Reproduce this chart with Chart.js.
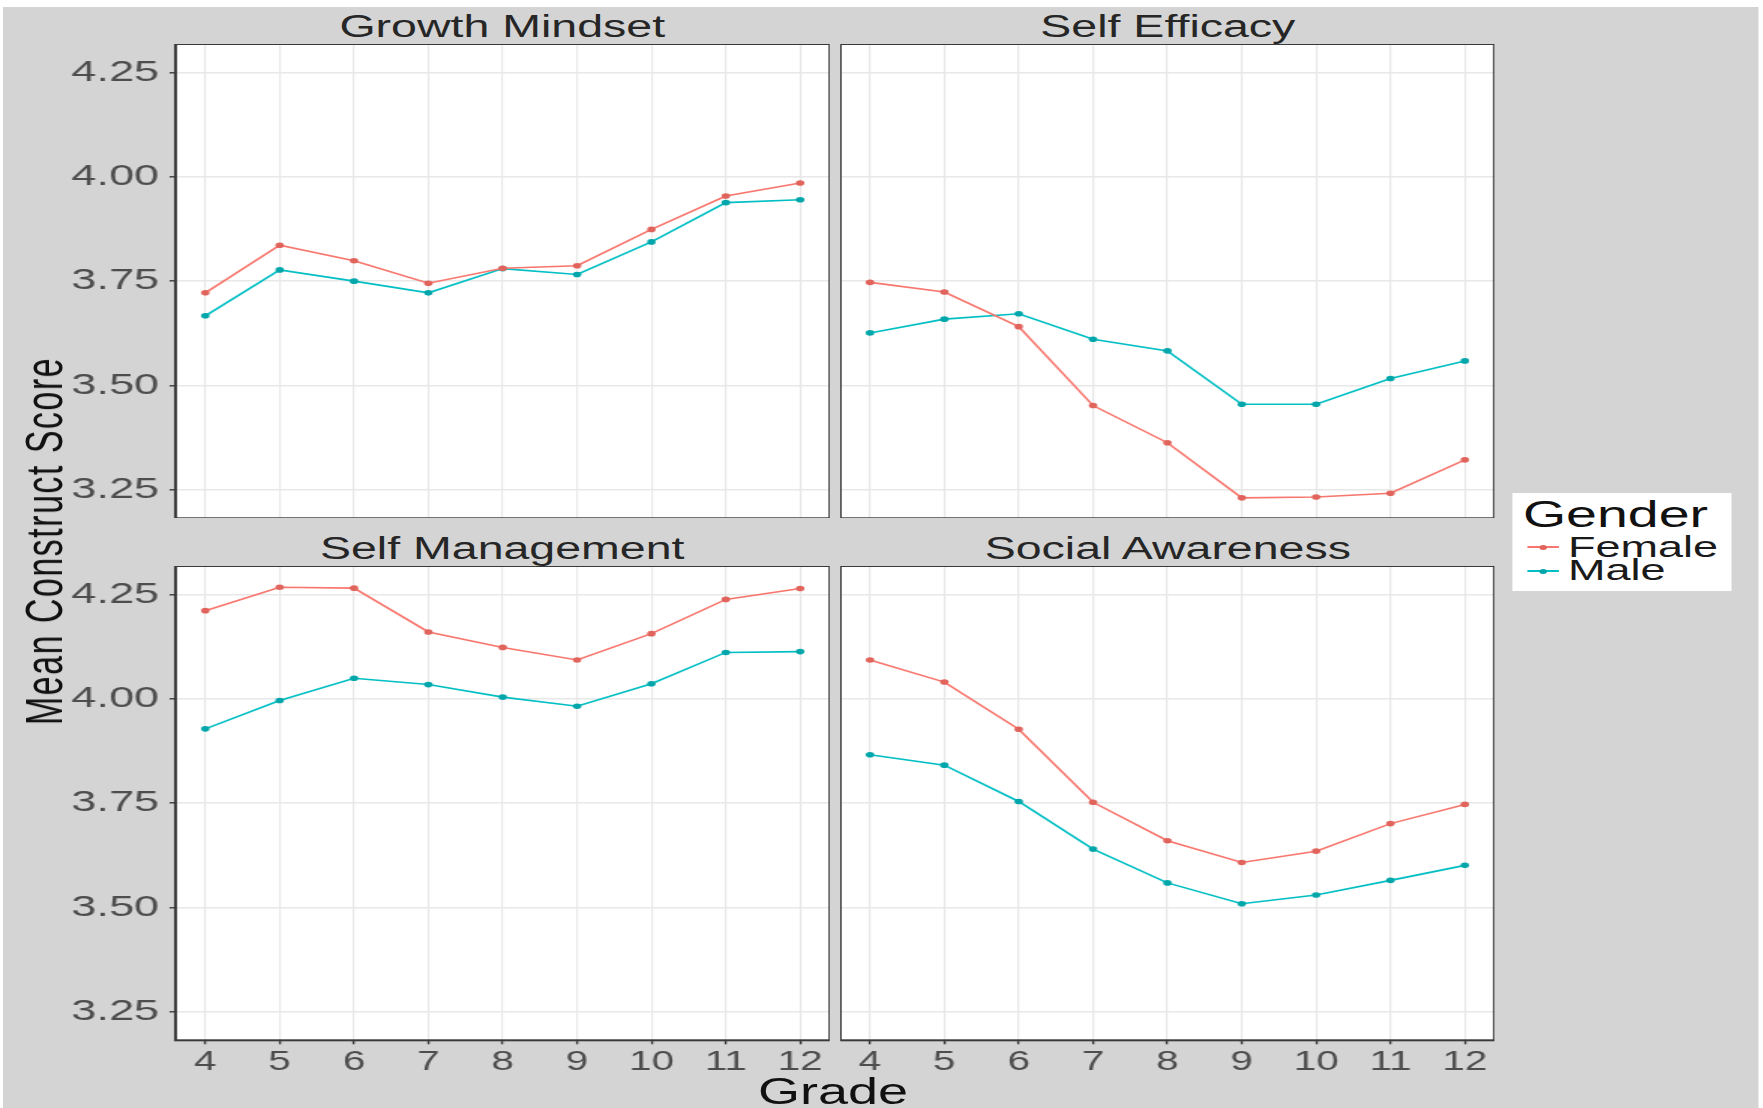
<!DOCTYPE html>
<html>
<head>
<meta charset="utf-8">
<script src="https://cdn.jsdelivr.net/npm/chart.js@4.4.1/dist/chart.umd.min.js"></script>
<style>
html,body{margin:0;padding:0;background:#ffffff;width:1763px;height:1108px;overflow:hidden;}
#stage{position:absolute;left:0;top:0;width:1175px;height:1108px;transform:scaleX(1.500426);transform-origin:0 0;font-family:"Liberation Sans",Arial,Helvetica,sans-serif;}
#bg{position:absolute;left:2px;top:7px;width:1170px;height:1101px;background:#d4d4d4;}
.panel{position:absolute;}
.panel canvas{display:block;}
.txt{position:absolute;line-height:1;white-space:nowrap;}
.strip{font-size:31px;color:#262626;text-align:center;}
#legend{position:absolute;left:1008.4px;top:493px;width:146px;height:98px;background:#ffffff;}
.key-line{position:absolute;height:2px;width:21px;}
.key-dot{position:absolute;width:5px;height:5px;border-radius:50%;}
</style>
</head>
<body>
<div id="stage">
  <div id="bg"></div>
  <div class="txt strip" id="t0"></div>
  <div class="txt strip" id="t1"></div>
  <div class="txt strip" id="t2"></div>
  <div class="txt strip" id="t3"></div>
  <div class="panel" id="p0"><canvas id="c0"></canvas></div>
  <div class="panel" id="p1"><canvas id="c1"></canvas></div>
  <div class="panel" id="p2"><canvas id="c2"></canvas></div>
  <div class="panel" id="p3"><canvas id="c3"></canvas></div>
  <div class="txt" id="ylab" style="left:28.7px;top:541px;font-size:34px;letter-spacing:1.5px;color:#111;transform:translate(-50%,-50%) rotate(-90deg);">Mean Construct Score</div>
  <div class="txt" id="xlab" style="left:555.2px;top:1074px;font-size:36px;color:#111;transform:translateX(-50%);">Grade</div>
  <div id="legend">
    <div class="txt" id="legTitle" style="left:6.6px;top:2.7px;font-size:37px;color:#111;"></div>
    <div class="key-line" id="kl0" style="left:9.3px;top:53px;"></div>
    <div class="key-dot" id="kd0" style="left:17.3px;top:51.5px;"></div>
    <div class="txt" id="lg0" style="left:36.6px;top:38.6px;font-size:30px;color:#1a1a1a;"></div>
    <div class="key-line" id="kl1" style="left:9.3px;top:77px;"></div>
    <div class="key-dot" id="kd1" style="left:17.3px;top:75.5px;"></div>
    <div class="txt" id="lg1" style="left:36.6px;top:61.6px;font-size:30px;color:#1a1a1a;"></div>
  </div>
</div>
<script>
// ---- data ----
const grades = [4, 5, 6, 7, 8, 9, 10, 11, 12];
const yTickValues = [3.25, 3.50, 3.75, 4.00, 4.25];
const panelTitles = ['Growth Mindset', 'Self Efficacy', 'Self Management', 'Social Awareness'];
const seriesNames = ['Female', 'Male'];
const legendTitle = 'Gender';
const gmFemale = [3.722, 3.836, 3.799, 3.745, 3.781, 3.787, 3.874, 3.954, 3.985];
const gmMale   = [3.667, 3.777, 3.750, 3.722, 3.780, 3.766, 3.844, 3.938, 3.945];
const seFemale = [3.747, 3.724, 3.641, 3.452, 3.363, 3.231, 3.233, 3.242, 3.322];
const seMale   = [3.626, 3.659, 3.672, 3.611, 3.583, 3.455, 3.455, 3.517, 3.559];
const smFemale = [4.211, 4.267, 4.265, 4.160, 4.123, 4.093, 4.156, 4.238, 4.264];
const smMale   = [3.928, 3.996, 4.049, 4.034, 4.004, 3.982, 4.036, 4.111, 4.113];
const saFemale = [4.093, 4.040, 3.927, 3.752, 3.660, 3.608, 3.635, 3.701, 3.747];
const saMale   = [3.866, 3.841, 3.754, 3.640, 3.559, 3.509, 3.530, 3.565, 3.601];
const yRange = [3.182, 4.318];
const xRange = [3.6, 12.4];

// ---- style / layout ----
const FEMALE_LINE = '#f8766d', FEMALE_PT = '#e0645c';
const MALE_LINE = '#00bfc4', MALE_PT = '#00a6aa';
const FONT = '"Liberation Sans", Arial, Helvetica, sans-serif';
const Y_W = 72, X_H = 50;
const colL = 116.7, colR = 560.3, panelW = 436.1;
const rowT = 44, rowB = 566, panelH = 474.3;

const frame = {
  id: 'panelFrame',
  beforeDraw(chart) {
    const {ctx, chartArea: a} = chart;
    ctx.save(); ctx.fillStyle = '#ffffff'; ctx.fillRect(a.left, a.top, a.width, a.height); ctx.restore();
  },
  afterDraw(chart) {
    const {ctx, chartArea: a} = chart;
    ctx.save(); ctx.strokeStyle = '#3a3a3a'; ctx.lineWidth = 2; ctx.strokeRect(a.left, a.top, a.width, a.height); ctx.restore();
  }
};

function ds(name, vals, line, pt) {
  return {
    label: name,
    data: grades.map((g, i) => ({x: g, y: vals[i]})),
    borderColor: line, backgroundColor: pt,
    pointBackgroundColor: pt, pointBorderColor: pt,
    borderWidth: 1.6, pointRadius: 2.8, pointBorderWidth: 0, tension: 0
  };
}

function makePanel(idx, female, male, showY, showX, left, top) {
  const div = document.getElementById('p' + idx);
  const w = panelW + (showY ? Y_W : 0);
  const h = panelH + (showX ? X_H : 0);
  div.style.left = (left - (showY ? Y_W : 0)) + 'px';
  div.style.top = top + 'px';
  div.style.width = w + 'px';
  div.style.height = h + 'px';
  const t = document.getElementById('t' + idx);
  t.textContent = panelTitles[idx];
  t.style.left = left + 'px';
  t.style.width = panelW + 'px';
  t.style.top = (top - 33.5) + 'px';

  new Chart(document.getElementById('c' + idx), {
    type: 'line',
    data: {datasets: [ds(seriesNames[0], female, FEMALE_LINE, FEMALE_PT), ds(seriesNames[1], male, MALE_LINE, MALE_PT)]},
    options: {
      responsive: true, maintainAspectRatio: false, animation: false,
      layout: {padding: 0, autoPadding: false},
      plugins: {legend: {display: false}, tooltip: {enabled: false}},
      scales: {
        x: {
          type: 'linear', min: xRange[0], max: xRange[1],
          afterBuildTicks: s => { s.ticks = grades.map(v => ({value: v})); },
          afterFit: s => { s.height = showX ? X_H : 0; s.paddingLeft = 0; s.paddingRight = 0; },
          grid: {color: '#e8e8e8', lineWidth: 1.2, drawTicks: showX, tickLength: 4, tickColor: '#3a3a3a', tickWidth: 1.4},
          border: {display: false},
          ticks: {display: showX, padding: 2, autoSkip: false, maxRotation: 0, color: '#4d4d4d',
                  font: {size: 27, family: FONT}, callback: v => String(v)}
        },
        y: {
          type: 'linear', min: yRange[0], max: yRange[1],
          afterBuildTicks: s => { s.ticks = yTickValues.map(v => ({value: v})); },
          afterFit: s => { s.width = showY ? Y_W : 0; s.paddingTop = 0; s.paddingBottom = 0; },
          grid: {color: '#e8e8e8', lineWidth: 1.6, drawTicks: showY, tickLength: 4, tickColor: '#3a3a3a', tickWidth: 1.4},
          border: {display: false},
          ticks: {display: showY, padding: 7, color: '#4d4d4d',
                  font: {size: 30, family: FONT}, callback: v => Number(v).toFixed(2)}
        }
      }
    },
    plugins: [frame]
  });
}

makePanel(0, gmFemale, gmMale, true, false, colL, rowT);
makePanel(1, seFemale, seMale, false, false, colR, rowT);
makePanel(2, smFemale, smMale, true, true, colL, rowB);
makePanel(3, saFemale, saMale, false, true, colR, rowB);

// legend
document.getElementById('legTitle').textContent = legendTitle;
document.getElementById('lg0').textContent = seriesNames[0];
document.getElementById('lg1').textContent = seriesNames[1];
document.getElementById('kl0').style.background = FEMALE_LINE;
document.getElementById('kd0').style.background = FEMALE_PT;
document.getElementById('kl1').style.background = MALE_LINE;
document.getElementById('kd1').style.background = MALE_PT;
</script>
</body>
</html>
